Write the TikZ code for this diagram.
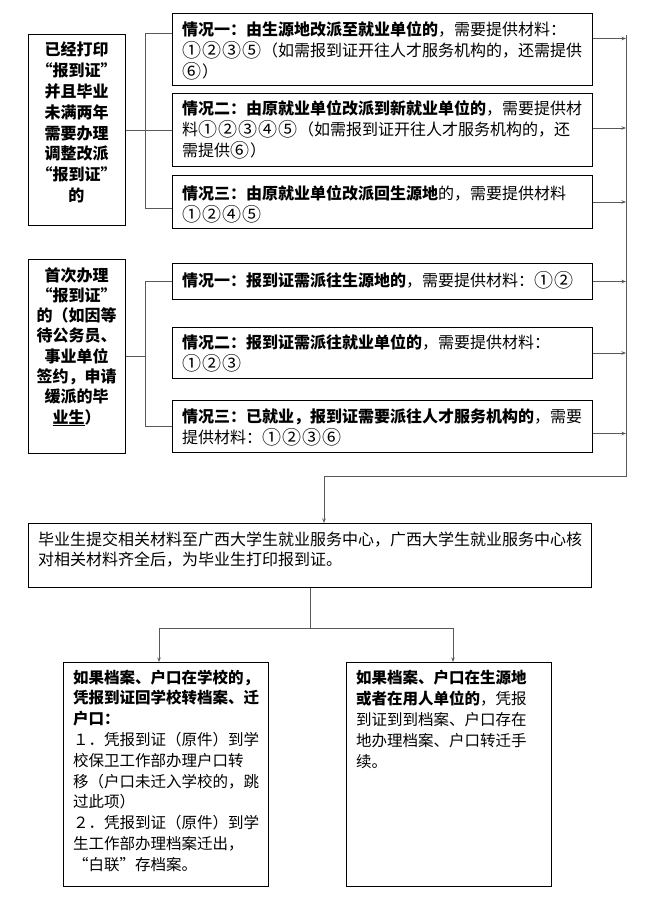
\documentclass[tikz,border=0pt]{standalone}
\usepackage{fontspec}
\setmainfont{Noto Sans CJK SC}
\usetikzlibrary{arrows.meta}
\newcommand{\qnum}[1]{\makebox[20pt]{\raisebox{-1pt}{\fontsize{19}{21}\selectfont#1}}}

\begin{document}
\begin{tikzpicture}[x=1pt, y=-1pt,
  box/.style={draw, line width=1pt, anchor=north west, inner sep=0pt},
  txt/.style={anchor=north west, align=left, inner sep=0pt, font=\fontsize{16}{21}\selectfont},
  side/.style={anchor=north, align=center, inner sep=0pt, font=\bfseries\fontsize{16}{20.8}\selectfont},
  link/.style={draw=black!65, line width=1pt},
  arr/.style={link, -{Stealth[length=4.5pt, width=3.5pt]}}]
  \useasboundingbox (0,0) rectangle (667,918);

  % 左侧两类情况
  \node[box, minimum width=97pt, minimum height=191pt] (la) at (28,34) {};
  \node[side] (la-t) at (76.5,42) {已经打印\\“报到证”\\并且毕业\\未满两年\\需要办理\\调整改派\\“报到证”\\的};
  \node[box, minimum width=97pt, minimum height=194pt] (lb) at (28,259) {};
  \node[side, font=\bfseries\fontsize{16}{20.3}\selectfont] (lb-t) at (76.5,267) {首次办理\\“报到证”\\的（如因等\\待公务员、\\事业单位\\签约，申请\\缓派的毕\\\underline{业生}）};

  % 右侧六种情况
  \node[box, minimum width=420pt, minimum height=72pt] (sa) at (172,13) {};
  \node[txt] (sa-t) at (182,21) {\textbf{情况一：由生源地改派至就业单位的}，需要提供材料：\\\qnum{①}\qnum{②}\qnum{③}\qnum{⑤}（如需报到证开往人才服务机构的，还需提供\\\qnum{⑥}）};
  \node[box, minimum width=420pt, minimum height=73pt] (sb) at (172,93) {};
  \node[txt] (sb-t) at (182,100) {\textbf{情况二：由原就业单位改派到新就业单位的}，需要提供材\\料\qnum{①}\qnum{②}\qnum{③}\qnum{④}\qnum{⑤}（如需报到证开往人才服务机构的，还\\需提供\qnum{⑥}）};
  \node[box, minimum width=420pt, minimum height=53pt] (sc) at (172,175) {};
  \node[txt] (sc-t) at (182,185) {\textbf{情况三：由原就业单位改派回生源地}的，需要提供材料\\\qnum{①}\qnum{②}\qnum{④}\qnum{⑤}};
  \node[box, minimum width=420pt, minimum height=36pt] (sd) at (172,263) {};
  \node[txt] (sd-t) at (182,271) {\textbf{情况一：报到证需派往生源地的}，需要提供材料：\qnum{①}\qnum{②}};
  \node[box, minimum width=420pt, minimum height=51pt] (se) at (172,327) {};
  \node[txt] (se-t) at (182,334) {\textbf{情况二：报到证需派往就业单位的}，需要提供材料：\\\qnum{①}\qnum{②}\qnum{③}};
  \node[box, minimum width=420pt, minimum height=52pt] (sf) at (172,400) {};
  \node[txt] (sf-t) at (182,409) {\textbf{情况三：已就业，报到证需要派往人才服务机构的}，需要\\提供材料：\qnum{①}\qnum{②}\qnum{③}\qnum{⑥}};

  % 中心与两种去向
  \node[box, minimum width=563pt, minimum height=64pt] (mn) at (28,523) {};
  \node[txt, font=\fontsize{16}{19.5}\selectfont] (mn-t) at (38,532) {毕业生提交相关材料至广西大学生就业服务中心，广西大学生就业服务中心核\\对相关材料齐全后，为毕业生打印报到证。};
  \node[box, minimum width=205pt, minimum height=224pt] (pa) at (63,662) {};
  \node[txt, font=\fontsize{15.5}{20.8}\selectfont] (pa-t) at (73,669.5) {\textbf{如果档案、户口在学校的，}\\\textbf{凭报到证回学校转档案、迁}\\\textbf{户口：}\\１．凭报到证（原件）到学\\校保卫工作部办理户口转\\移（户口未迁入学校的，跳\\过此项）\\２．凭报到证（原件）到学\\生工作部办理档案迁出，\\“白联”存档案。};
  \node[box, minimum width=205pt, minimum height=224pt] (pb) at (346,662) {};
  \node[txt, font=\fontsize{15.5}{21.2}\selectfont] (pb-t) at (356,669.5) {\textbf{如果档案、户口在生源地}\\\textbf{或者在用人单位的}，凭报\\到证到到档案、户口存在\\地办理档案、户口转迁手\\续。};

  % 连接线
  \coordinate (b1) at (145,0);
  \coordinate (rt) at (626,35);
  \coordinate (jn) at (324,476);
  \coordinate (fl) at (159,628);
  \coordinate (fr) at (453,628);

  \draw[link] (la.east) -- (sb.west);
  \draw[link] ([yshift=16pt]sa.west) -| ([yshift=-6.5pt]sc.west -| b1) -- ([yshift=-6.5pt]sc.west);
  \draw[link] (lb.east) -- (lb.east -| b1);
  \draw[link] (sd.west) -| (sf.west -| b1) -- (sf.west);

  \draw[link] (rt) |- (jn);
  \draw[arr] ([yshift=11pt]sa.east) -- ([yshift=11pt]sa.east -| rt);
  \draw[arr] ([yshift=2pt]sb.east) -- ([yshift=2pt]sb.east -| rt);
  \draw[arr] (sc.east) -- (sc.east -| rt);
  \draw[arr] (sd.east) -- (sd.east -| rt);
  \draw[arr] (se.east) -- (se.east -| rt);
  \draw[arr] ([yshift=-7pt]sf.east) -- ([yshift=-7pt]sf.east -| rt);
  \draw[arr] (jn) -- (jn |- mn.north);

  \draw[link] (mn.south) -- (mn.south |- fl);
  \draw[link] (fl) -- (fr);
  \draw[arr] (fl) -- (fl |- pa.north);
  \draw[arr] (fr) -- (fr |- pb.north);
\end{tikzpicture}
\end{document}
